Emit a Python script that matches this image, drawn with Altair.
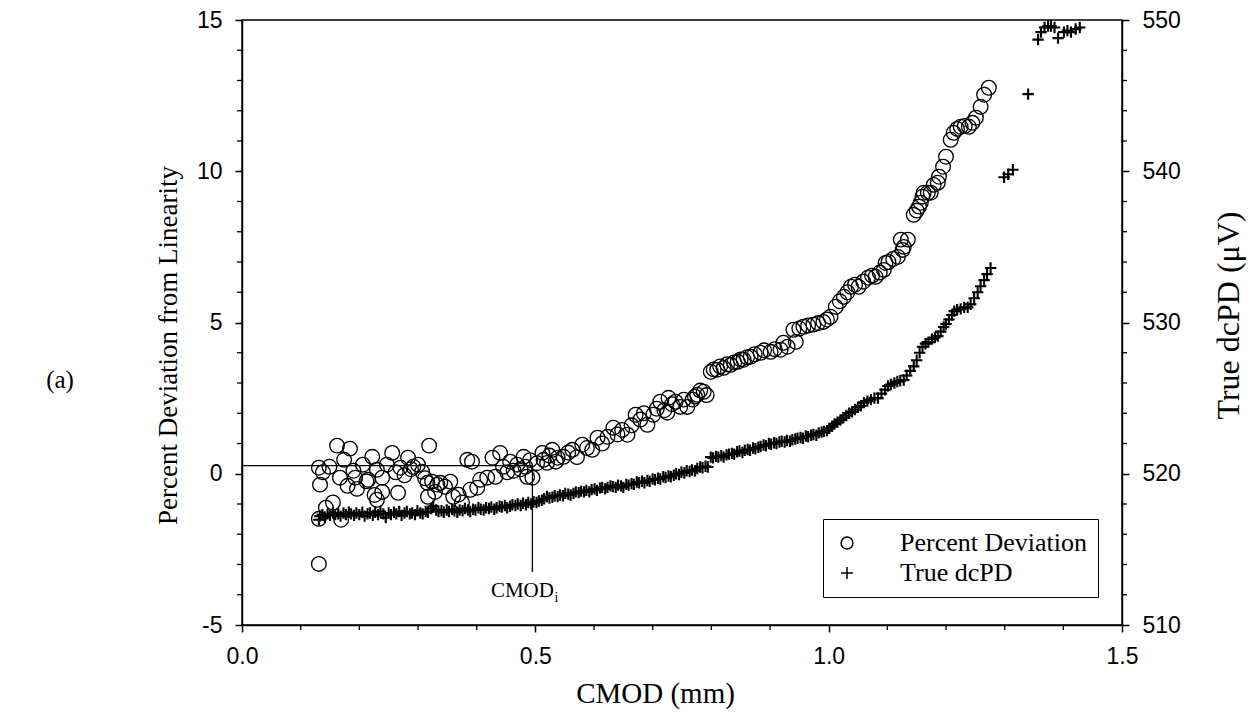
import altair as alt
import pandas as pd

# ---------------- data ----------------
# Percent deviation from linearity (open circles, left axis)
pd_x = [0.131, 0.131, 0.133, 0.131, 0.138, 0.143, 0.149, 0.155, 0.162, 0.167,
        0.169, 0.174, 0.180, 0.184, 0.190, 0.193, 0.196, 0.206, 0.212, 0.215,
        0.222, 0.226, 0.230, 0.230, 0.239, 0.239, 0.247, 0.256, 0.262, 0.266,
        0.270, 0.277, 0.283, 0.288, 0.292, 0.300, 0.307, 0.312, 0.316, 0.317,
        0.319, 0.324, 0.329, 0.333, 0.338, 0.346, 0.355, 0.360, 0.369, 0.375,
        0.384, 0.389, 0.392, 0.401, 0.406, 0.418, 0.427, 0.432, 0.440, 0.445,
        0.452, 0.457, 0.463, 0.469, 0.475, 0.480, 0.483, 0.486, 0.491, 0.495,
        0.503, 0.512, 0.514, 0.520, 0.524, 0.529, 0.535, 0.538, 0.548, 0.556,
        0.563, 0.571, 0.580, 0.588, 0.597, 0.606, 0.614, 0.623, 0.633, 0.640,
        0.648, 0.657, 0.664, 0.671, 0.679, 0.685, 0.691, 0.701, 0.707, 0.713,
        0.720, 0.725, 0.727, 0.733, 0.739, 0.747, 0.753, 0.759, 0.768, 0.772,
        0.776, 0.781, 0.787, 0.792, 0.799, 0.804, 0.810, 0.815, 0.821, 0.827,
        0.833, 0.839, 0.845, 0.850, 0.855, 0.861, 0.867, 0.874, 0.884, 0.890,
        0.901, 0.908, 0.918, 0.923, 0.930, 0.940, 0.944, 0.950, 0.957, 0.965,
        0.974, 0.982, 0.991, 0.997, 1.003, 1.012, 1.019, 1.026, 1.032, 1.038,
        1.045, 1.051, 1.059, 1.067, 1.074, 1.080, 1.087, 1.094, 1.097, 1.102,
        1.110, 1.118, 1.123, 1.126, 1.128, 1.135, 1.145, 1.150, 1.154, 1.157,
        1.160, 1.162, 1.169, 1.174, 1.179, 1.186, 1.188, 1.195, 1.200, 1.208,
        1.213, 1.219, 1.225, 1.232, 1.239, 1.245, 1.251, 1.259, 1.265, 1.273]
pd_y = [-2.98, 0.20, -0.36, -1.49, 0.05, -1.12, 0.23, -0.95, 0.93, -0.13,
        -1.52, 0.46, -0.40, 0.83, 0.10, -0.13, -0.50, 0.30, -0.25, -0.20,
        0.56, -0.70, 0.13, -0.86, -0.13, -0.60, 0.30, 0.69, 0.05, -0.63,
        0.20, -0.05, 0.53, 0.15, 0.23, 0.30, 0.07, -0.15, -0.30, -0.76,
        0.93, -0.26, -0.60, -0.36, -0.30, -0.43, -0.26, -0.76, -0.69, -0.95,
        0.46, -0.53, 0.40, -0.46, -0.20, -0.13, 0.53, -0.10, 0.69, 0.23,
        0.05, 0.40, 0.10, 0.30, 0.15, 0.56, 0.23, -0.10, 0.45, -0.13,
        0.35, 0.69, 0.46, 0.36, 0.60, 0.79, 0.40, 0.53, 0.56, 0.70,
        0.79, 0.55, 0.96, 0.85, 0.79, 1.19, 1.00, 1.22, 1.52, 1.30,
        1.45, 1.29, 1.60, 1.95, 1.79, 2.00, 1.62, 1.95, 2.15, 2.38,
        2.10, 2.02, 2.51, 2.30, 2.38, 2.21, 2.45, 2.21, 2.45, 2.55,
        2.61, 2.75, 2.71, 2.60, 3.37, 3.45, 3.44, 3.55, 3.50, 3.62,
        3.60, 3.68, 3.70, 3.78, 3.77, 3.85, 3.87, 3.95, 4.00, 4.08,
        4.03, 4.12, 4.10, 4.33, 4.20, 4.76, 4.36, 4.80, 4.86, 4.90,
        4.93, 4.98, 5.02, 5.10, 5.19, 5.52, 5.70, 5.85, 6.00, 6.18,
        6.25, 6.18, 6.35, 6.48, 6.55, 6.51, 6.65, 6.74, 6.97, 7.00,
        7.10, 7.17, 7.74, 7.40, 7.50, 7.74, 8.56, 8.70, 8.83, 8.96,
        9.16, 9.29, 9.29, 9.29, 9.55, 9.62, 9.82, 10.15, 10.48, 11.04,
        11.27, 11.40, 11.47, 11.50, 11.47, 11.60, 11.77, 12.13, 12.53, 12.76]

# True dcPD (crosses, right axis, microvolts)
dc_x = [0.131, 0.133, 0.137, 0.141, 0.146, 0.150, 0.155, 0.159, 0.164, 0.168,
        0.173, 0.177, 0.182, 0.186, 0.191, 0.195, 0.200, 0.205, 0.209, 0.214,
        0.218, 0.223, 0.227, 0.232, 0.236, 0.241, 0.245, 0.250, 0.254, 0.259,
        0.263, 0.268, 0.272, 0.277, 0.281, 0.286, 0.290, 0.295, 0.299, 0.304,
        0.308, 0.313, 0.317, 0.322, 0.326, 0.331, 0.335, 0.340, 0.344, 0.349,
        0.353, 0.358, 0.362, 0.367, 0.371, 0.376, 0.380, 0.385, 0.389, 0.394,
        0.398, 0.403, 0.407, 0.412, 0.416, 0.421, 0.425, 0.430, 0.434, 0.439,
        0.443, 0.448, 0.452, 0.457, 0.461, 0.466, 0.470, 0.475, 0.479, 0.484,
        0.488, 0.493, 0.497, 0.502, 0.506, 0.511, 0.515, 0.520, 0.524, 0.529,
        0.533, 0.538, 0.542, 0.547, 0.551, 0.556, 0.560, 0.565, 0.569, 0.574,
        0.578, 0.583, 0.587, 0.592, 0.596, 0.601, 0.605, 0.610, 0.614, 0.619,
        0.623, 0.628, 0.632, 0.637, 0.641, 0.646, 0.650, 0.655, 0.659, 0.664,
        0.668, 0.673, 0.677, 0.682, 0.686, 0.691, 0.695, 0.700, 0.704, 0.709,
        0.713, 0.718, 0.722, 0.727, 0.731, 0.736, 0.740, 0.745, 0.749, 0.754,
        0.758, 0.763, 0.767, 0.772, 0.776, 0.781, 0.785, 0.790, 0.794, 0.799,
        0.803, 0.808, 0.812, 0.817, 0.821, 0.826, 0.830, 0.835, 0.839, 0.844,
        0.848, 0.853, 0.857, 0.862, 0.866, 0.871, 0.875, 0.880, 0.884, 0.889,
        0.893, 0.898, 0.902, 0.907, 0.911, 0.916, 0.920, 0.925, 0.929, 0.934,
        0.938, 0.943, 0.947, 0.952, 0.956, 0.961, 0.965, 0.970, 0.974, 0.979,
        0.983, 0.988, 0.992, 0.997, 1.001, 1.006, 1.010, 1.015, 1.020, 1.025,
        1.030, 1.035, 1.040, 1.045, 1.050, 1.055, 1.060, 1.066, 1.072, 1.078,
        1.084, 1.090, 1.096, 1.101, 1.106, 1.112, 1.117, 1.122, 1.128, 1.133,
        1.139, 1.145, 1.150, 1.155, 1.160, 1.165, 1.170, 1.176, 1.181, 1.186,
        1.191, 1.196, 1.200, 1.205, 1.210, 1.214, 1.219, 1.225, 1.231, 1.237,
        1.242, 1.248, 1.254, 1.259, 1.265, 1.270, 1.276, 1.299, 1.306, 1.314,
        1.340, 1.357, 1.362, 1.368, 1.374, 1.379, 1.385, 1.391, 1.401, 1.407,
        1.413, 1.421, 1.428]
dc_y = [516.96, 517.20, 517.30, 517.15, 517.35, 517.25, 517.40, 517.30, 517.35, 517.20,
        517.40, 517.30, 517.45, 517.35, 517.25, 517.40, 517.30, 517.45, 517.20, 517.35,
        517.40, 517.25, 517.45, 517.30, 517.50, 517.35, 517.10, 517.40, 517.30, 517.45,
        517.35, 517.50, 517.25, 517.40, 517.50, 517.35, 517.40, 517.30, 517.55, 517.40,
        517.35, 517.50, 517.45, 517.70, 517.85, 517.60, 517.50, 517.55, 517.45, 517.60,
        517.50, 517.65, 517.55, 517.45, 517.60, 517.55, 517.70, 517.60, 517.50, 517.65,
        517.60, 517.75, 517.65, 517.60, 517.75, 517.70, 517.80, 517.65, 517.75, 517.85,
        517.80, 517.90, 517.75, 517.85, 517.95, 517.90, 518.00, 517.90, 518.05, 517.95,
        518.10, 518.00, 518.15, 518.10, 518.20, 518.25, 518.35, 518.50, 518.40, 518.45,
        518.55, 518.50, 518.60, 518.55, 518.70, 518.65, 518.60, 518.70, 518.80, 518.75,
        518.85, 518.80, 518.90, 518.80, 518.95, 519.00, 518.90, 519.05, 519.10, 519.00,
        519.10, 519.20, 519.15, 519.10, 519.25, 519.20, 519.10, 519.30, 519.25, 519.35,
        519.30, 519.45, 519.40, 519.50, 519.40, 519.55, 519.50, 519.65, 519.60, 519.70,
        519.65, 519.80, 519.75, 519.85, 519.80, 519.90, 520.00, 519.95, 520.10, 520.05,
        520.20, 520.15, 520.25, 520.20, 520.35, 520.45, 520.40, 520.50, 520.45, 521.10,
        521.05, 521.15, 521.10, 521.20, 521.10, 521.25, 521.30, 521.35, 521.30, 521.45,
        521.50, 521.40, 521.55, 521.60, 521.55, 521.70, 521.65, 521.75, 521.80, 521.90,
        521.85, 522.00, 521.95, 522.05, 522.00, 522.10, 522.15, 522.10, 522.20, 522.15,
        522.25, 522.30, 522.35, 522.40, 522.35, 522.50, 522.45, 522.55, 522.60, 522.55,
        522.70, 522.75, 522.80, 522.85, 523.00, 523.15, 523.30, 523.40, 523.55, 523.70,
        523.85, 524.00, 524.10, 524.25, 524.40, 524.50, 524.70, 524.80, 524.90, 525.00,
        525.00, 525.30, 525.55, 525.80, 525.90, 526.00, 526.10, 526.15, 526.20, 526.50,
        526.80, 527.10, 527.50, 528.00, 528.40, 528.60, 528.70, 528.90, 529.00, 529.10,
        529.40, 529.70, 529.90, 530.20, 530.50, 530.75, 530.85, 530.90, 531.00, 531.00,
        531.20, 531.60, 532.00, 532.40, 532.80, 533.20, 533.60, 539.60, 539.80, 540.10,
        545.10, 548.70, 549.20, 549.50, 549.60, 549.60, 549.50, 548.80, 549.20, 549.30,
        549.20, 549.40, 549.50]

series_names = ["Percent Deviation", "True dcPD"]

# axes / ticks
x_ticks = [0.0, 0.5, 1.0, 1.5]
x_minor = [0.1, 0.2, 0.3, 0.4, 0.6, 0.7, 0.8, 0.9, 1.1, 1.2, 1.3, 1.4]
left_ticks = [-5, 0, 5, 10, 15]
left_minor = [-4, -3, -2, -1, 1, 2, 3, 4, 6, 7, 8, 9, 11, 12, 13, 14]
right_ticks = [510, 520, 530, 540, 550]
right_minor = [512, 514, 516, 518, 522, 524, 526, 528, 532, 534, 536, 538,
               542, 544, 546, 548]

# CMOD_i annotation
cmodi_x = 0.495
cmodi_level = 0.27
cmodi_bottom = -3.25
cmodi_label_y = -3.87

# ---------------- styling ----------------
SERIF = "Liberation Serif"
SANS = "Liberation Sans"
CROSS = "M-1,0H1M0,-1V1"
W, H = 880, 605

x_scale = alt.Scale(domain=[0, 1.5], nice=False, zero=False)
l_scale = alt.Scale(domain=[-5, 15], nice=False, zero=False)
r_scale = alt.Scale(domain=[510, 550], nice=False, zero=False)
shape_scale = alt.Scale(domain=series_names, range=["circle", CROSS])

common_axis = dict(grid=False, tickSize=7, tickWidth=1.5, domainWidth=1.5,
                   domainColor="black", tickColor="black",
                   labelFont=SANS, labelFontSize=23, labelColor="black",
                   labelFlush=False, labelOverlap=False,
                   titleFont=SERIF, titleFontWeight="normal",
                   titleColor="black", labelPadding=13)

x_axis = alt.Axis(values=x_ticks, labelExpr="format(datum.value, '.1f')",
                  title="CMOD (mm)", titleFontSize=29,
                  titleX=413, titleY=68, titleBaseline="middle", **common_axis)
l_axis = alt.Axis(values=left_ticks, labelExpr="'' + datum.value",
                  title="Percent Deviation from Linearity", titleFontSize=27,
                  titleAngle=270, titleX=-74, titleY=325,
                  titleBaseline="middle", **common_axis)
r_axis = alt.Axis(values=right_ticks, labelExpr="'' + datum.value", orient="right",
                  title="True dcPD (\u03bcV)", titleFontSize=32,
                  titleAngle=270, titleX=106, titleY=295,
                  titleBaseline="middle", **common_axis)

legend = alt.Legend(title=None, orient="none", legendX=581, legendY=499,
                    labelFont=SERIF, labelFontSize=26, labelColor="black",
                    labelOffset=40, padding=11, rowPadding=4,
                    strokeColor="black", fillColor="white",
                    symbolSize=140, symbolStrokeWidth=1.5,
                    symbolStrokeColor="black", symbolFillColor="transparent",
                    labelLimit=400)

df_pd = pd.DataFrame({"cmod": pd_x, "val": pd_y, "series": series_names[0]})
df_dc = pd.DataFrame({"cmod": dc_x, "val": dc_y, "series": series_names[1]})


def X(field):
    return alt.X(field, scale=x_scale, axis=x_axis)


def YL(field):
    return alt.Y(field, scale=l_scale, axis=l_axis)


def YR(field):
    return alt.Y(field, scale=r_scale, axis=r_axis)


circles = alt.Chart(df_pd).mark_point(
    filled=False, size=215, stroke="black", color="black", strokeWidth=1.3,
    opacity=1
).encode(
    x=X("cmod:Q"), y=YL("val:Q"),
    shape=alt.Shape("series:N", scale=shape_scale, legend=legend),
)

hline = alt.Chart(pd.DataFrame({"x0": [0.0], "x1": [cmodi_x], "y": [cmodi_level]})).mark_rule(
    color="black", strokeWidth=1.3
).encode(x=X("x0:Q"), x2="x1:Q", y=YL("y:Q"))

vline = alt.Chart(pd.DataFrame({"x": [cmodi_x], "y0": [cmodi_level], "y1": [cmodi_bottom]})).mark_rule(
    color="black", strokeWidth=1.3
).encode(x=X("x:Q"), y=YL("y0:Q"), y2="y1:Q")

lab_df = pd.DataFrame({"x": [cmodi_x], "y": [cmodi_label_y], "t": ["CMOD"], "s": ["i"]})
cmod_txt = alt.Chart(lab_df).mark_text(
    font=SERIF, fontSize=21, color="black", align="center", baseline="middle", dx=-10
).encode(x=X("x:Q"), y=YL("y:Q"), text="t:N")
cmod_sub = alt.Chart(lab_df).mark_text(
    font=SERIF, fontSize=14, color="black", align="left", baseline="middle", dx=22, dy=7
).encode(x=X("x:Q"), y=YL("y:Q"), text="s:N")

x_minor_ticks = alt.Chart(pd.DataFrame({"v": x_minor})).mark_rule(
    color="black", strokeWidth=1.3
).encode(x=X("v:Q"), y=alt.value(H), y2=alt.value(H + 5))

l_minor_ticks = alt.Chart(pd.DataFrame({"v": left_minor})).mark_rule(
    color="black", strokeWidth=1.3
).encode(y=YL("v:Q"), x=alt.value(0), x2=alt.value(-5))

panel_label = alt.Chart(pd.DataFrame({"t": ["(a)"]})).mark_text(
    font=SERIF, fontSize=25, color="black", align="center", baseline="middle"
).encode(x=alt.value(-182), y=alt.value(360), text="t:N")

crosses = alt.Chart(df_dc).mark_point(
    filled=False, size=130, stroke="black", color="black", strokeWidth=2.1,
    opacity=1
).encode(
    x=X("cmod:Q"), y=YR("val:Q"),
    shape=alt.Shape("series:N", scale=shape_scale, legend=legend),
)
r_minor_ticks = alt.Chart(pd.DataFrame({"v": right_minor})).mark_rule(
    color="black", strokeWidth=1.3
).encode(y=YR("v:Q"), x=alt.value(W), x2=alt.value(W + 5))

left_group = alt.layer(hline, vline, circles, cmod_txt, cmod_sub,
                       x_minor_ticks, l_minor_ticks, panel_label)
right_group = alt.layer(crosses, r_minor_ticks)

chart = alt.layer(left_group, right_group).resolve_scale(
    y="independent"
).properties(
    width=W, height=H,
    autosize=alt.AutoSizeParams(type="none"),
    padding={"left": 242, "top": 20, "right": 128, "bottom": 102},
    background="white",
).configure_view(
    stroke="black", strokeWidth=1.5
)

chart.save("out.html", embed_options={"renderer": "svg", "actions": False})
